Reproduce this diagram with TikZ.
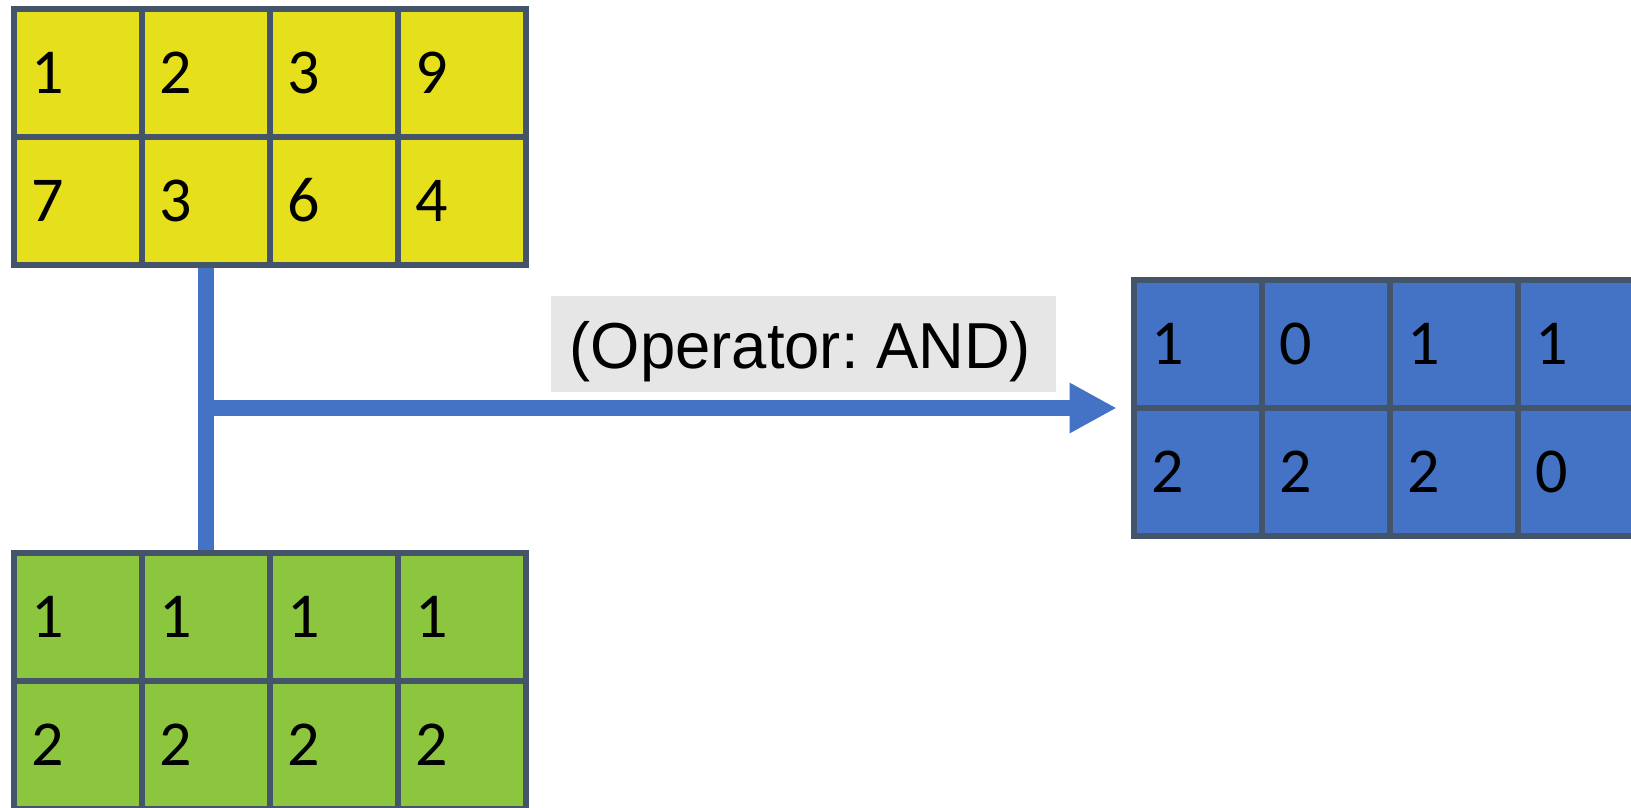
\documentclass[tikz,border=0pt]{standalone}
\usepackage{fontspec}
\setmainfont{Carlito}
\newfontfamily\lblfont{Liberation Sans}
\usetikzlibrary{arrows.meta,calc}
\definecolor{ycol}{HTML}{E6E01C}
\definecolor{gcol}{HTML}{8CC63E}
\definecolor{bcol}{HTML}{4472C4}
\definecolor{edgecol}{HTML}{44546A}
\definecolor{lblbg}{HTML}{E6E6E6}
\pgfdeclarelayer{bg}
\pgfsetlayers{bg,main}
\frenchspacing
\begin{document}
\begin{tikzpicture}[x=1pt,y=-1pt,
  cell/.style={rectangle, draw=edgecol, line width=6pt, minimum width=128pt,
    minimum height=128pt, inner sep=0pt, outer sep=0pt, text width=92pt,
    align=left, font=\fontsize{64}{76}\selectfont},
  conn/.style={draw=bcol, line width=16pt},
  lblbox/.style={fill=lblbg, minimum width=505.3pt, minimum height=96pt,
    inner sep=0pt, outer sep=0pt},
  lbltext/.style={inner sep=0pt, font=\lblfont\fontsize{65}{78}\selectfont}
]
\useasboundingbox (0,0) rectangle (1631,807);
\clip (0,0) rectangle (1631,807);
% yellow grid
\foreach \r/\c/\v in {1/1/1,1/2/2,1/3/3,1/4/9,2/1/7,2/2/3,2/3/6,2/4/4}
  \node[cell, fill=ycol] (Y\r\c) at ({13.5+128*(\c-0.5)},{8.5+128*(\r-0.5)}) {\v};
% green grid
\foreach \r/\c/\v in {1/1/1,1/2/1,1/3/1,1/4/1,2/1/2,2/2/2,2/3/2,2/4/2}
  \node[cell, fill=gcol] (G\r\c) at ({13.5+128*(\c-0.5)},{552.5+128*(\r-0.5)}) {\v};
% blue grid
\foreach \r/\c/\v in {1/1/1,1/2/0,1/3/1,1/4/1,2/1/2,2/2/2,2/3/2,2/4/0}
  \node[cell, fill=bcol] (B\r\c) at ({1133.7+128*(\c-0.5)},{280+128*(\r-0.5)}) {\v};
% label
\node[lblbox] (lblbox) at (803.35,343.7) {};
\node[lbltext] (lbltxt) at (800.5,351.2) {\scalebox{0.975}[1]{(Operator: AND)}};
% connectors
\begin{pgfonlayer}{bg}
\coordinate (j) at (Y22.south |- B11.south);
\draw[conn] (Y22.south) -- (G12.north);
\draw[conn, -{Triangle[width=47pt,length=47pt]}, shorten >=17pt] (j) -- (B11.south west);
\end{pgfonlayer}
\end{tikzpicture}
\end{document}
